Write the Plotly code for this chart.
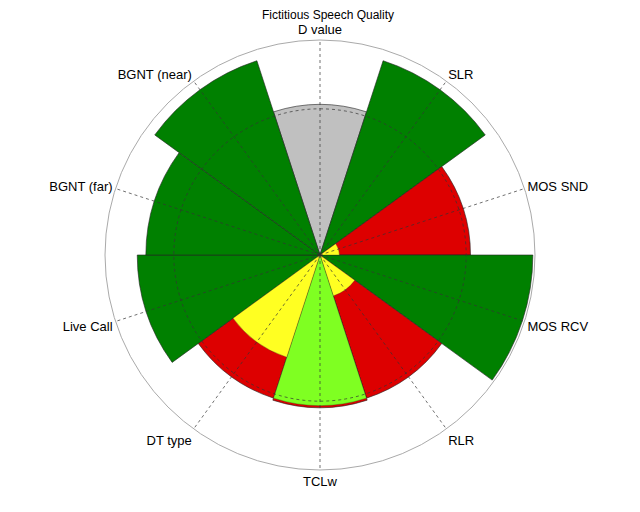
import plotly.graph_objects as go

categories = ["D value", "SLR", "MOS SND", "MOS RCV", "RLR", "TCLw",
              "DT type", "Live Call", "BGNT (far)", "BGNT (near)"]
angles = [0, 36, 72, 108, 144, 180, 216, 252, 288, 324]

# outer layer (radius as % of full scale) and its colours
outer_values = [70, 95, 70, 99, 70, 71, 70, 85, 81, 95]
outer_colors = ["#c0c0c0", "#008000", "#dd0000", "#008000", "#dd0000",
                "#dd0000", "#dd0000", "#008000", "#008000", "#008000"]

# inner layer
inner_angles = [72, 144, 180, 216]
inner_values = [9, 20, 70, 50]
inner_colors = ["#ffff22", "#ffff22", "#7fff22", "#ffff22"]

grid_radius = 68

fig = go.Figure()
fig.add_trace(go.Barpolar(
    r=outer_values, theta=angles, width=36,
    marker=dict(color=outer_colors, line=dict(color="#222222", width=0.6)),
    hovertext=categories,
))
fig.add_trace(go.Barpolar(
    r=inner_values, theta=inner_angles, width=36,
    marker=dict(color=inner_colors, line=dict(color="#222222", width=0.3)),
))

# dotted grid drawn on top of the bars
for a in angles:
    fig.add_trace(go.Scatterpolar(
        r=[0, 100], theta=[a, a], mode="lines",
        line=dict(color="#333333", width=0.7, dash="dot"), hoverinfo="skip",
    ))
circle_theta = list(range(0, 361, 2))
fig.add_trace(go.Scatterpolar(
    r=[grid_radius] * len(circle_theta), theta=circle_theta, mode="lines",
    line=dict(color="#333333", width=0.7, dash="dot"), hoverinfo="skip",
))

fig.update_layout(
    width=640, height=512,
    margin=dict(l=64, r=80, t=32, b=50),
    paper_bgcolor="white",
    showlegend=False,
    title=dict(text="Fictitious Speech Quality", x=0.5, y=0.995, yanchor="top",
               font=dict(family="Liberation Sans, Arial", size=12, color="black")),
    font=dict(family="Liberation Sans, Arial", size=13, color="black"),
    polar=dict(
        bgcolor="white",
        barmode="overlay",
        angularaxis=dict(
            rotation=90, direction="clockwise",
            tickmode="array", tickvals=angles, ticktext=categories,
            showline=True, linecolor="#aaaaaa", linewidth=1,
            showgrid=False, ticks="",
        ),
        radialaxis=dict(
            range=[0, 100], showticklabels=False, showgrid=False,
            showline=False, ticks="",
        ),
    ),
)

fig.write_html("out.html")
